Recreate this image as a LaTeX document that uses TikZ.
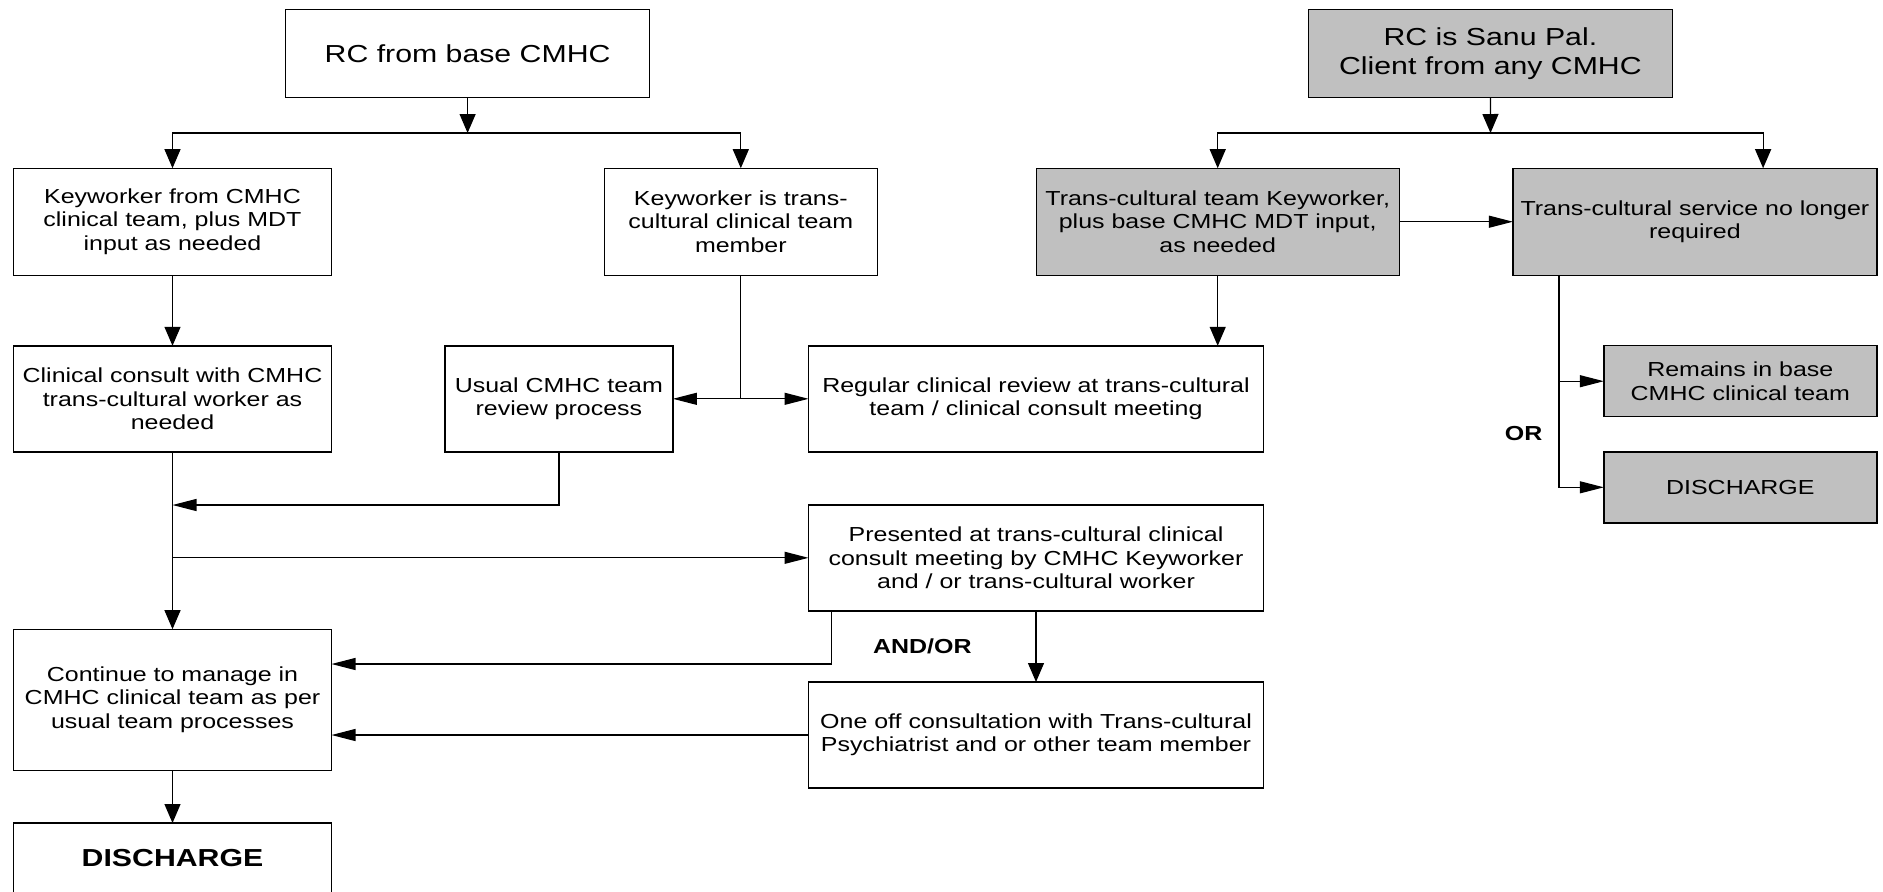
\documentclass[tikz,border=0pt]{standalone}
\usepackage{fontspec}
\setmainfont{Liberation Sans}[FakeStretch=1.23]
\usetikzlibrary{arrows.meta}
\definecolor{vgrey}{RGB}{192,192,192}
\newcommand\bodyfs{\fontsize{10.15pt}{11.67pt}\selectfont}
\newcommand\titlefs{\fontsize{12.3pt}{14.2pt}\selectfont}
\tikzset{
  box/.style={draw, line width=0.7pt, inner sep=0pt, outer sep=0pt, align=center, font=\bodyfs},
  gbox/.style={box, fill=vgrey},
  conn/.style={line width=0.6pt},
  varr/.style={conn, -{Triangle[length=9.5pt,width=8pt]}},
  harr/.style={conn, -{Triangle[length=12pt,width=6pt]}},
  lbl/.style={font=\bodyfs\bfseries, inner sep=0pt}
}
\begin{document}
\begin{tikzpicture}[x=0.5pt,y=-0.5pt]
\useasboundingbox (0,0) rectangle (1883,891);
% left column
\node[box, font=\titlefs, minimum width=182pt, minimum height=44pt] (A) at (467.6,53.5) {RC from base CMHC};
\node[box, minimum width=159pt, minimum height=53.5pt] (B) at (172.5,221.7) {Keyworker from CMHC\\clinical team, plus MDT\\input as needed};
\node[box, minimum width=136.5pt, minimum height=53.5pt] (C) at (740.8,221.7) {Keyworker is trans-\\cultural clinical team\\member};
\node[box, minimum width=159pt, minimum height=53pt] (I) at (172.5,398.8) {Clinical consult with CMHC\\trans-cultural worker as\\needed};
\node[box, minimum width=114pt, minimum height=53pt] (J) at (558.9,398.8) {Usual CMHC team\\review process};
\node[box, minimum width=227.5pt, minimum height=53pt] (L) at (1036,398.8) {Regular clinical review at trans-cultural\\team / clinical consult meeting};
\node[box, minimum width=227.5pt, minimum height=53pt] (K) at (1036,557.8) {Presented at trans-cultural clinical\\consult meeting by CMHC Keyworker\\and / or trans-cultural worker};
\node[box, minimum width=159pt, minimum height=70.5pt] (M) at (172.5,699.7) {Continue to manage in\\CMHC clinical team as per\\usual team processes};
\node[box, minimum width=227.5pt, minimum height=53pt] (O) at (1036,735) {One off consultation with Trans-cultural\\Psychiatrist and or other team member};
\node[box, font=\titlefs\bfseries, minimum width=159pt, minimum height=35pt] (N) at (172.5,858) {DISCHARGE};
% right column
\node[gbox, font=\titlefs, minimum width=182pt, minimum height=44pt] (E) at (1490.4,53.5) {RC is Sanu Pal.\\Client from any CMHC};
\node[gbox, minimum width=181.5pt, minimum height=53.5pt] (D) at (1217.7,221.7) {Trans-cultural team Keyworker,\\plus base CMHC MDT input,\\as needed};
\node[gbox, minimum width=182pt, minimum height=53.5pt] (F) at (1694.9,221.7) {Trans-cultural service no longer\\required};
\node[gbox, minimum width=136.5pt, minimum height=35.5pt] (G) at (1740.3,381.2) {Remains in base\\CMHC clinical team};
\node[gbox, minimum width=136.5pt, minimum height=35.5pt] (H) at (1740.3,487.3) {DISCHARGE};
% labels
\node[lbl] (andor) at (922.3,646) {AND/OR};
\node[lbl] (orl) at (1523.7,433.3) {OR};
% helper coordinates
\coordinate (br1) at (467.6,133);
\coordinate (br2) at (1490.5,133);
\coordinate (t1) at (172.5,505);
\coordinate (t2) at (I.south |- K.west);
\coordinate (c1) at (C.south |- J.east);
\coordinate (f1) at ([xshift=23pt]F.south west);
\coordinate (k1) at ([xshift=11.6pt]K.south west);
% connectors
\draw[varr] (A.south) -- (br1);
\draw[varr] (br1) -| (B.north);
\draw[varr] (br1) -| (C.north);
\draw[varr] (E.south) -- (br2);
\draw[varr] (br2) -| (D.north);
\draw[varr] (br2) -| ([xshift=34.1pt]F.north);
\draw[harr] (D.east) -- (F.west);
\draw[varr] (B.south) -- (I.north);
\draw[conn] (C.south) -- (c1);
\draw[harr] (c1) -- (J.east);
\draw[harr] (c1) -- (L.west);
\draw[varr] (D.south) -- (D.south |- L.north);
\draw[varr] (I.south) -- (M.north);
\draw[harr] (J.south) |- (t1);
\draw[harr] (t2) -- (K.west);
\draw[harr] (k1) |- ([yshift=17.85pt]M.east);
\draw[harr] (O.west) -- (M.east |- O.west);
\draw[varr] (K.south) -- (O.north);
\draw[varr] (M.south) -- (N.north);
\draw[harr] (f1) |- (G.west);
\draw[harr] (f1) |- (H.west);
\end{tikzpicture}
\end{document}
